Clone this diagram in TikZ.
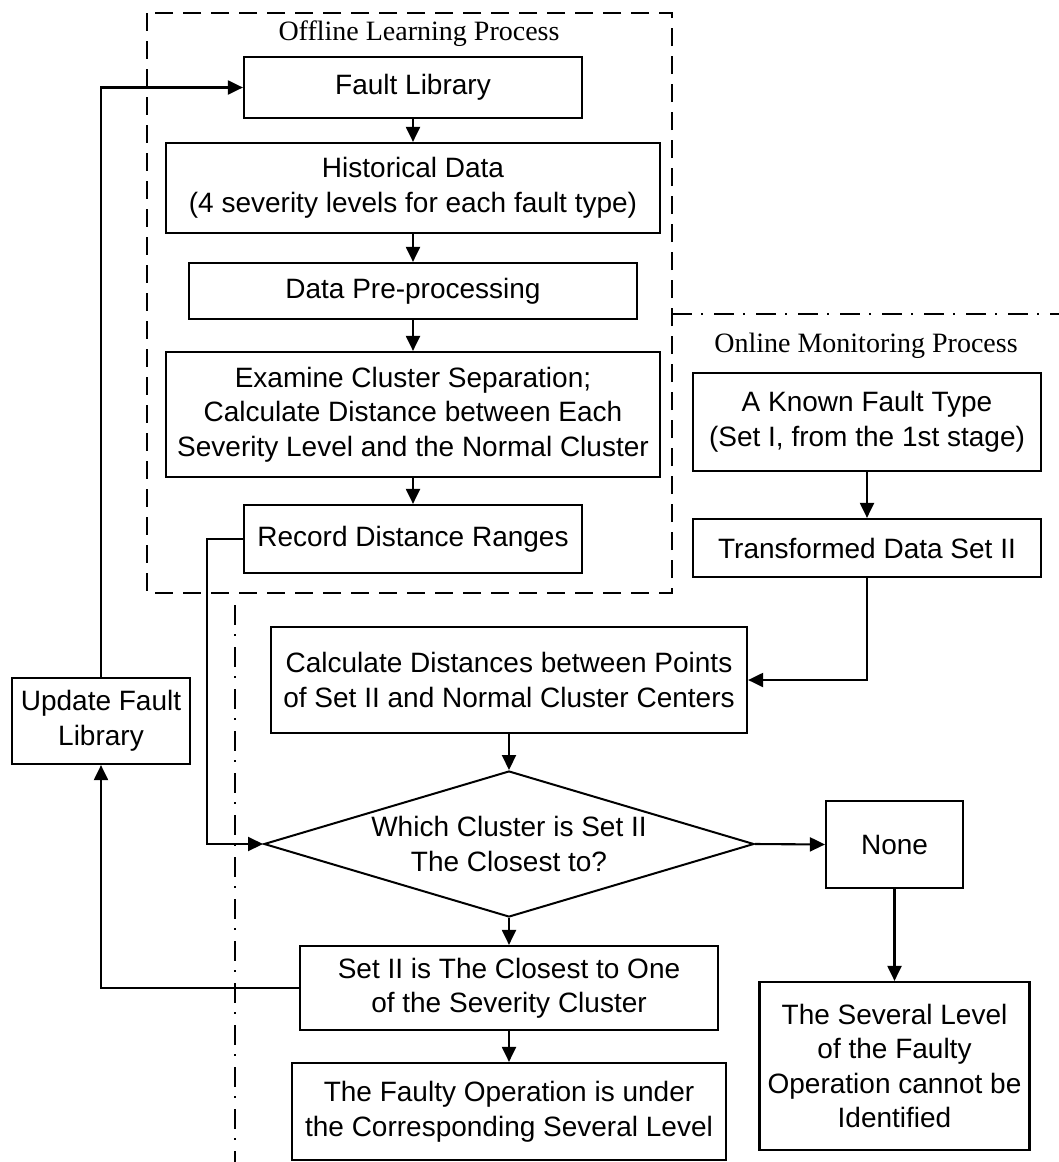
\documentclass[tikz,border=0pt]{standalone}
\usepackage{fontspec}
\setmainfont{Liberation Sans}
\newfontfamily\seriff{Liberation Serif}
\usetikzlibrary{shapes.geometric,arrows.meta}
\begin{document}
\begin{tikzpicture}[x=1pt,y=-1pt,
  box/.style={draw, line width=2.2pt, inner sep=0pt, align=center, font=\fontsize{28}{34.5}\selectfont},
  txt/.style={inner sep=0pt, align=center, font=\fontsize{28}{34.5}\selectfont},
  lbl/.style={inner sep=0pt, font=\seriff\fontsize{28}{34}\selectfont},
  arr/.style={line width=2.1pt, -{Triangle[length=15pt,width=14pt]}},
  dashbox/.style={line width=2.2pt, dash pattern=on 18pt off 10pt},
  dashdot/.style={line width=2pt, dash pattern=on 20pt off 9pt on 2pt off 11pt}]
\useasboundingbox (0,0) rectangle (1059,1162);

% frames
\draw[dashbox] (147,13) rectangle (672,593);
\draw[dashdot] (672,314) -- (1059,314);
\draw[dashdot] (235,605) -- (235,1162);

\node[lbl] (offl) at (419,34) {Offline Learning Process};
\node[lbl] (onl) at (866,346) {Online Monitoring Process};

% offline column
\node[box, minimum width=338pt, minimum height=61pt] (fl) at (413,87.5) {Fault Library};
\node[box, minimum width=494pt, minimum height=90pt] (hist) at (413,188) {Historical Data\\(4 severity levels for each fault type)};
\node[box, minimum width=448pt, minimum height=56pt] (pre) at (413,291) {Data Pre-processing};
\node[box, minimum width=494pt, minimum height=125pt] (exam) at (413,414.5) {Examine Cluster Separation;\\Calculate Distance between Each\\Severity Level and the Normal Cluster};
\node[box, minimum width=338pt, minimum height=68pt] (rec) at (413,539) {Record Distance Ranges};

% online column
\node[box, minimum width=348pt, minimum height=98pt] (known) at (867,422) {A Known Fault Type\\(Set I, from the 1st stage)};
\node[box, minimum width=348pt, minimum height=58pt] (trans) at (867,548) {Transformed Data Set II};

\node[box, minimum width=476pt, minimum height=106pt] (calc) at (509,680) {Calculate Distances between Points\\of Set II and Normal Cluster Centers};
\node[draw, diamond, line width=2pt, minimum width=490pt, minimum height=146pt, inner sep=0pt] (dia) at (509,844) {};
\node[txt] (diat) at (509,844) {Which Cluster is Set II\\The Closest to?};
\node[box, minimum width=137pt, minimum height=87pt] (none) at (894.5,844.5) {None};
\node[box, minimum width=270pt, minimum height=168pt] (sev) at (894.5,1066) {The Several Level\\of the Faulty\\Operation cannot be\\Identified};
\node[box, minimum width=418pt, minimum height=84pt] (set2) at (509,988) {Set II is The Closest to One\\of the Severity Cluster};
\node[box, minimum width=434pt, minimum height=97pt] (faulty) at (509,1111.5) {The Faulty Operation is under\\the Corresponding Several Level};
\node[box, minimum width=178pt, minimum height=86pt] (upd) at (101,721) {Update Fault\\Library};

% connectors
\draw[arr] (fl.south) -- (hist.north);
\draw[arr] (hist.south) -- (pre.north);
\draw[arr] (pre.south) -- (exam.north);
\draw[arr] (exam.south) -- (rec.north);
\draw[arr] (known.south) -- (trans.north);
\draw[arr] (trans.south) |- (calc.east);
\draw[arr] (calc.south) -- (dia.north);
\draw[arr] (rec.west) -- ++(-36,0) |- (dia.west);
\draw[arr] (dia.east) -- (none.west);
\draw[arr] (none.south) -- (sev.north);
\draw[arr] (dia.south) -- (set2.north);
\draw[arr] (set2.south) -- (faulty.north);
\draw[arr] (set2.west) -| (upd.south);
\draw[arr] (upd.north) |- (fl.west);
\end{tikzpicture}
\end{document}
